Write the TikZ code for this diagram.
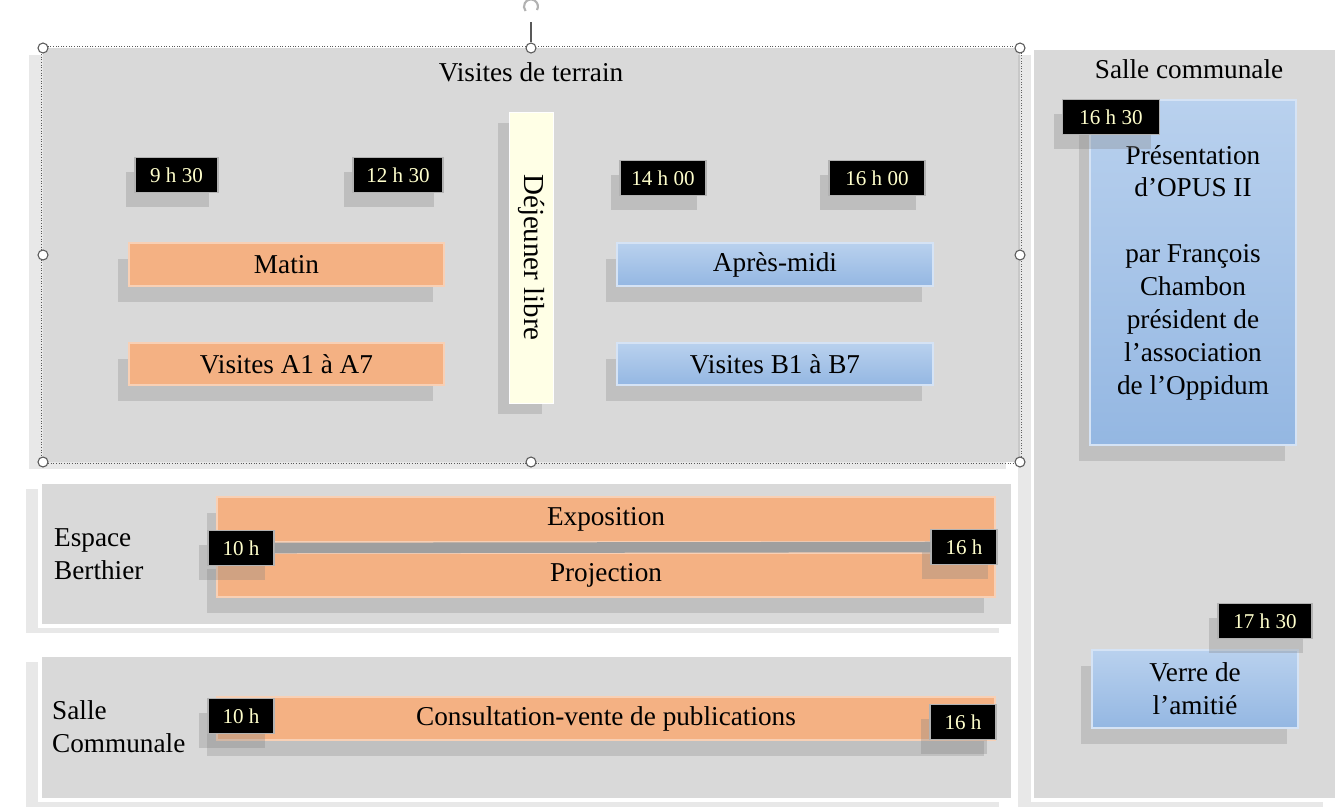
\documentclass[tikz,border=0pt]{standalone}
\usepackage{fontspec}
\setmainfont{Liberation Serif}
\usetikzlibrary{shadows,positioning}
\definecolor{panelgray}{HTML}{D9D9D9}
\definecolor{orangebar}{HTML}{F4B183}
\definecolor{bluetop}{HTML}{B9D1EE}
\definecolor{bluebot}{HTML}{94B7E2}
\definecolor{cream}{HTML}{FFFFE6}
\definecolor{badgetext}{HTML}{FFFFCC}

\begin{document}
\begin{tikzpicture}[x=0.02cm,y=-0.02cm,
    font=\fontsize{15.5}{18.7}\selectfont,
    panel/.style={fill=panelgray,draw=white,line width=2pt,
      drop shadow={shadow xshift=-8pt,shadow yshift=-4pt,opacity=0.18}},
    orangebox/.style={fill=orangebar,draw=orangebar!60!white,line width=0.8pt,
      drop shadow={shadow xshift=-6pt,shadow yshift=-9pt,opacity=0.28}},
    bluebox/.style={top color=bluetop,bottom color=bluebot,draw=bluetop!60!white,line width=0.8pt,
      drop shadow={shadow xshift=-6pt,shadow yshift=-9pt,opacity=0.28}},
    badge/.style={fill=black,draw=gray!60,line width=0.8pt,text=badgetext,
      font=\fontsize{12}{14}\selectfont,minimum height=0.7cm,inner xsep=4pt,
      drop shadow={shadow xshift=-5pt,shadow yshift=-8pt,opacity=0.3}},
    handle/.style={circle,draw=gray!70!black,fill=white,line width=0.6pt,inner sep=0pt,minimum size=0.2cm}]
  \useasboundingbox (0,0) rectangle (1335,809);
  \fill[white] (0,0) rectangle (1335,809);

  % panels
  \node[panel,draw=none,minimum width=19.54cm,minimum height=8.28cm] (terrain) at (531.5,255) {};
  \draw[gray!70!black,densely dotted,line width=0.5pt] (terrain.north west) rectangle (terrain.south east);
  \node[panel,minimum width=6.1cm,minimum height=15.04cm] (salle) at (1185,424) {};
  \node[panel,minimum width=19.46cm,minimum height=2.88cm] (berthier) at (526.5,554) {};
  \node[panel,minimum width=19.46cm,minimum height=2.9cm] (commune) at (526.5,727.5) {};

  \node (tterrain) at (531,72) {Visites de terrain};
  \node (tsalle) at (1189,69) {Salle communale};
  \node[anchor=west,align=left] (tberthier) at (48,554) {Espace\\Berthier};
  \node[anchor=west,align=left] (tcommune) at (46,727) {Salle\\Communale};

  % visites de terrain
  \node[orangebox,minimum width=6.3cm,minimum height=0.86cm] (matin) at (286.5,264.5) {Matin};
  \node[orangebox,minimum width=6.3cm,minimum height=0.84cm] (visa) at (286.5,364) {Visites A1 à A7};
  \node[bluebox,minimum width=6.32cm,minimum height=0.86cm] (apres) at (775,264.5) {Après-midi};
  \node[bluebox,minimum width=6.32cm,minimum height=0.84cm] (visb) at (775,364) {Visites B1 à B7};
  \node[fill=cream,draw=white,rotate=-90,minimum width=5.82cm,minimum height=0.88cm,
    font=\fontsize{16.5}{19}\selectfont,
    drop shadow={shadow xshift=-6pt,shadow yshift=-6pt,opacity=0.28}] (dej) at (531,257.5) {Déjeuner libre};

  \node[badge,minimum width=1.66cm] (t0930) at (176.5,175) {9 h 30};
  \node[badge,minimum width=1.8cm] (t1230) at (398,175) {12 h 30};
  \node[badge,minimum width=1.72cm] (t1400) at (663,178) {14 h 00};
  \node[badge,minimum width=1.92cm] (t1600) at (877,178) {16 h 00};

  % espace berthier
  \node[orangebox,minimum width=15.56cm,minimum height=0.9cm] (expo) at (606,519.5) {Exposition};
  \node[orangebox,minimum width=15.56cm,minimum height=0.88cm] (proj) at (606,575) {Projection};
  \node[badge,minimum width=1.32cm] (b10) at (241,548) {10 h};
  \node[badge,minimum width=1.32cm] (b16) at (964,547) {16 h};
  \draw[gray!75,line width=6pt] (b10.east) -- (b16.west);

  % salle communale (bas)
  \node[orangebox,minimum width=15.56cm,minimum height=0.86cm] (consult) at (606,718.5) {Consultation-vente de publications};
  \node[badge,minimum width=1.32cm] (c10) at (241,716) {10 h};
  \node[badge,minimum width=1.32cm] (c16) at (963,722) {16 h};

  % salle communale (droite)
  \node[bluebox,minimum width=4.12cm,minimum height=6.9cm,align=center] (pres) at (1193,272.5)
    {Présentation\\d’OPUS II\\\mbox{}\\par François\\Chambon\\président de\\l’association\\de l’Oppidum};
  \node[badge,minimum width=1.94cm] (t1630) at (1111,117) {16 h 30};
  \node[bluebox,minimum width=4.12cm,minimum height=1.56cm,align=center] (verre) at (1195,689) {Verre de\\l’amitié};
  \node[badge,minimum width=1.88cm] (t1730) at (1265,621) {17 h 30};

  % poignees de selection
  \foreach \x/\y/\n in {43/48/1,531/48/2,1020/48/3,43/255/4,1020/255/5,43/462/6,531/462/7,1020/462/8}
    \node[handle] (h\n) at (\x,\y) {};
  \coordinate (rot) at (531,22);
  \draw[gray!70!black,line width=0.6pt] (h2) -- (rot);
  \draw[gray!60,line width=1.2pt] (537,10) arc (30:-220:7);
\end{tikzpicture}
\end{document}
